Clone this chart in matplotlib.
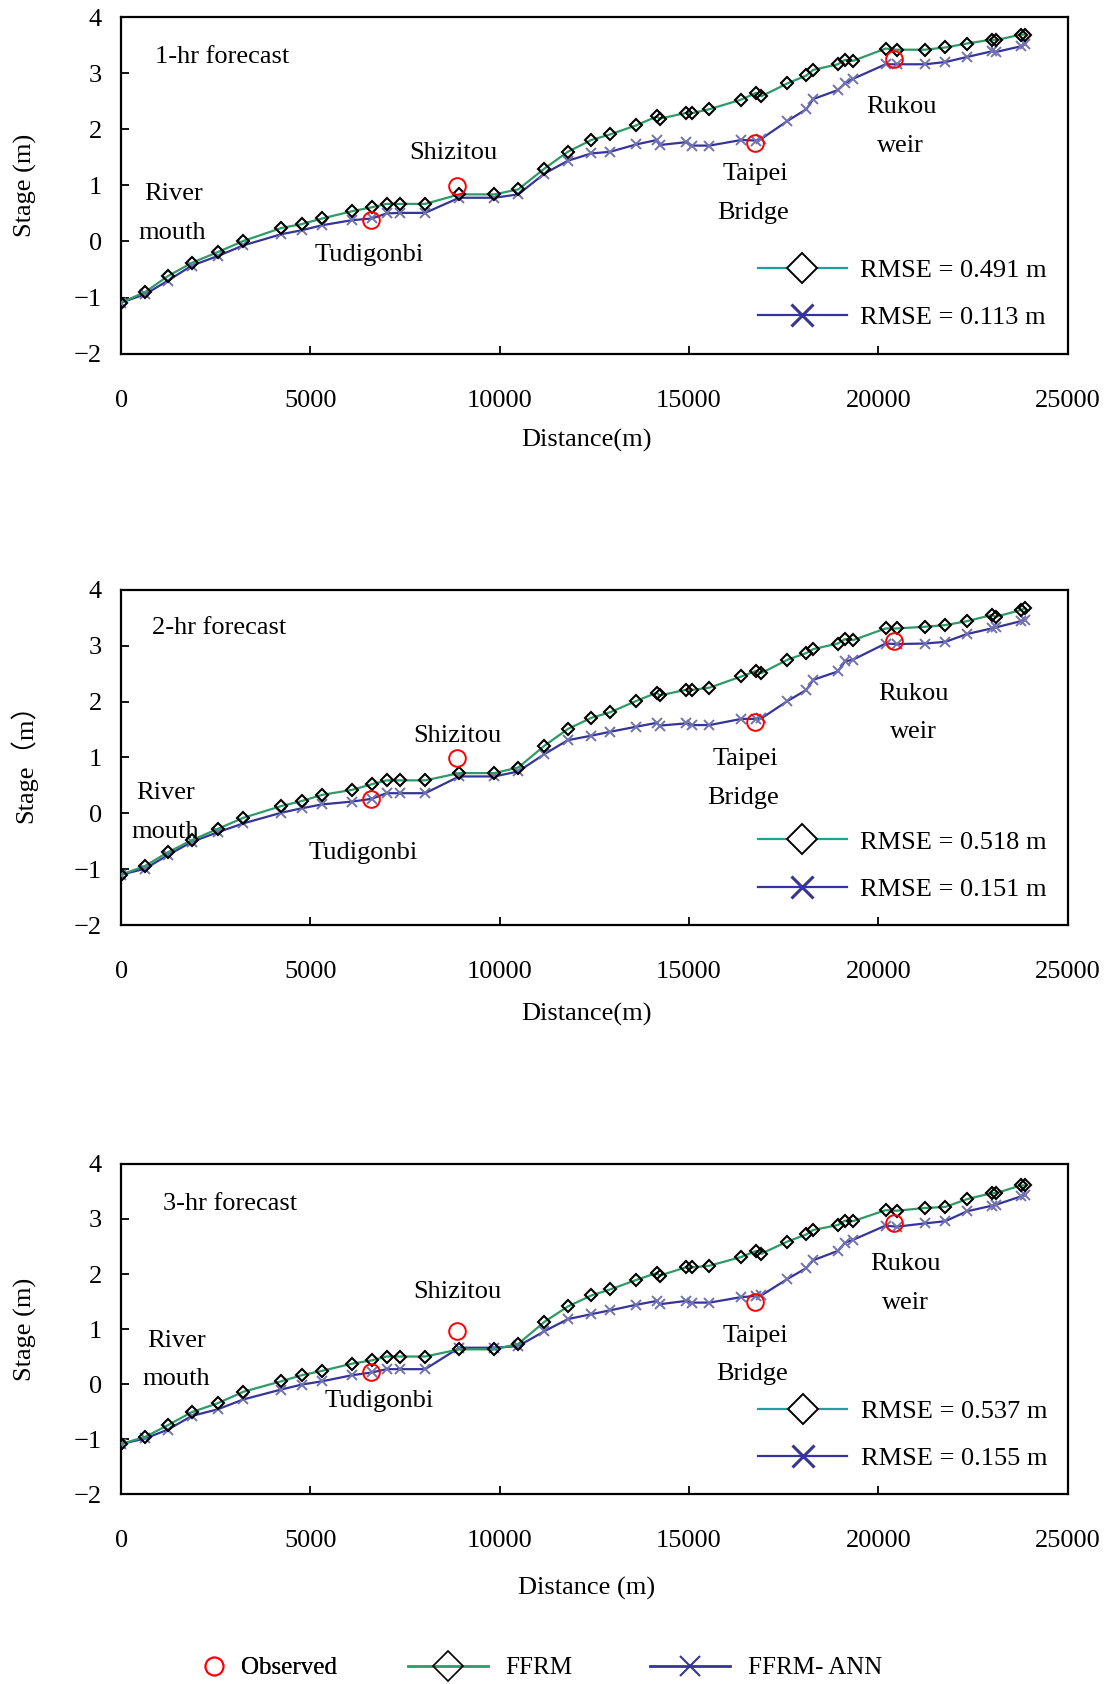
import matplotlib
matplotlib.use("Agg")
from matplotlib import pyplot as plt
from matplotlib.lines import Line2D

plt.rcParams['font.family'] = ['Liberation Serif', 'Noto Sans CJK SC', 'DejaVu Serif']
plt.rcParams['axes.unicode_minus'] = True

# station distances (m)
dist = [0, 640, 1230, 1870, 2550, 3230, 4230, 4770, 5310, 6100, 6620, 7010, 7370, 8030,
        8930, 9860, 10490, 11180, 11800, 12420, 12920, 13600, 14150, 14220, 14910, 15090,
        15540, 16380, 16770, 16910, 17600, 18100, 18280, 18930, 19120, 19330, 20190, 20480,
        21230, 21770, 22340, 22990, 23110, 23760, 23880]

ffrm_1hr = [-1.09, -0.90, -0.62, -0.38, -0.19, 0.01, 0.24, 0.31, 0.41, 0.54, 0.61, 0.67, 0.67,
            0.67, 0.84, 0.84, 0.93, 1.30, 1.60, 1.81, 1.91, 2.07, 2.23, 2.19, 2.29, 2.29, 2.36,
            2.53, 2.65, 2.59, 2.82, 2.96, 3.06, 3.16, 3.24, 3.22, 3.44, 3.42, 3.42, 3.46, 3.53,
            3.60, 3.59, 3.69, 3.69]
ann_1hr = [-1.09, -0.94, -0.70, -0.43, -0.26, -0.07, 0.13, 0.20, 0.29, 0.38, 0.41, 0.50, 0.51,
           0.51, 0.78, 0.78, 0.84, 1.21, 1.44, 1.57, 1.60, 1.73, 1.81, 1.72, 1.77, 1.71, 1.71,
           1.81, 1.80, 1.83, 2.15, 2.36, 2.54, 2.70, 2.82, 2.90, 3.16, 3.16, 3.16, 3.20, 3.29,
           3.39, 3.38, 3.48, 3.52]

ffrm_2hr = [-1.10, -0.94, -0.70, -0.48, -0.28, -0.08, 0.13, 0.22, 0.33, 0.42, 0.52, 0.59, 0.59,
            0.59, 0.72, 0.72, 0.82, 1.21, 1.51, 1.71, 1.81, 2.01, 2.16, 2.11, 2.21, 2.21, 2.25,
            2.45, 2.55, 2.51, 2.75, 2.87, 2.94, 3.04, 3.12, 3.10, 3.31, 3.31, 3.34, 3.37, 3.44,
            3.55, 3.52, 3.64, 3.67]
ann_2hr = [-1.10, -0.99, -0.75, -0.51, -0.34, -0.18, 0.01, 0.09, 0.16, 0.21, 0.26, 0.36, 0.36,
           0.36, 0.66, 0.66, 0.75, 1.06, 1.31, 1.39, 1.46, 1.55, 1.62, 1.57, 1.61, 1.58, 1.58,
           1.69, 1.69, 1.70, 2.01, 2.21, 2.39, 2.54, 2.72, 2.75, 3.04, 3.03, 3.04, 3.07, 3.21,
           3.31, 3.33, 3.44, 3.46]

ffrm_3hr = [-1.09, -0.96, -0.75, -0.51, -0.35, -0.14, 0.05, 0.16, 0.24, 0.37, 0.43, 0.50, 0.50,
            0.50, 0.63, 0.63, 0.73, 1.13, 1.41, 1.61, 1.72, 1.89, 2.02, 1.97, 2.12, 2.12, 2.15,
            2.31, 2.42, 2.37, 2.59, 2.72, 2.80, 2.89, 2.97, 2.96, 3.16, 3.15, 3.20, 3.22, 3.36,
            3.47, 3.47, 3.61, 3.61]
ann_3hr = [-1.09, -0.99, -0.83, -0.58, -0.46, -0.28, -0.10, -0.01, 0.05, 0.16, 0.21, 0.27, 0.27,
           0.27, 0.66, 0.66, 0.69, 0.96, 1.18, 1.27, 1.34, 1.44, 1.51, 1.45, 1.51, 1.48, 1.48,
           1.58, 1.60, 1.61, 1.91, 2.11, 2.25, 2.42, 2.57, 2.62, 2.88, 2.86, 2.92, 2.96, 3.14,
           3.24, 3.26, 3.41, 3.44]

obs_x = [6600, 8880, 16740, 20420]
obs_1hr = [0.38, 0.99, 1.75, 3.26]
obs_2hr = [0.25, 0.99, 1.64, 3.09]
obs_3hr = [0.21, 0.96, 1.49, 2.92]

titles = ['1-hr forecast', '2-hr forecast', '3-hr forecast']
rmse_ffrm = ['RMSE = 0.491 m', 'RMSE = 0.518 m', 'RMSE = 0.537 m']
rmse_ann = ['RMSE = 0.113 m', 'RMSE = 0.151 m', 'RMSE = 0.155 m']
ylabels = ['Stage (m)', 'Stage\uff08m\uff09', 'Stage (m)']
xlabels = ['Distance(m)', 'Distance(m)', 'Distance (m)']

# label positions (data coords) per panel
place_names = ['River', 'mouth', 'Tudigonbi', 'Shizitou', 'Taipei', 'Bridge', 'Rukou', 'weir']
label_pos = [
    [(2680, 3.29), (1375, 0.84), (1350, 0.15), (6540, -0.24), (8780, 1.58),
     (16750, 1.20), (16690, 0.51), (20610, 2.39), (20580, 1.70)],
    [(2590, 3.31), (1175, 0.36), (1175, -0.33), (6390, -0.71), (8890, 1.38),
     (16490, 0.97), (16440, 0.28), (20920, 2.14), (20920, 1.45)],
    [(2880, 3.28), (1460, 0.79), (1460, 0.09), (6820, -0.30), (8890, 1.68),
     (16750, 0.88), (16660, 0.18), (20720, 2.18), (20720, 1.48)],
]
xlabel_y = [-0.223, -0.233, -0.25]

GREEN = '#2e9a68'
TEAL = '#1f9e9a'
NAVY = '#34349a'
XCOL = '#7272b2'

fig = plt.figure(figsize=(11.11, 16.84), dpi=100)
boxes = [[0.109, 0.790, 0.852, 0.1998],
         [0.109, 0.4507, 0.852, 0.199],
         [0.109, 0.1128, 0.852, 0.196]]
ffrm_all = [ffrm_1hr, ffrm_2hr, ffrm_3hr]
ann_all = [ann_1hr, ann_2hr, ann_3hr]
obs_all = [obs_1hr, obs_2hr, obs_3hr]

for i in range(3):
    ax = fig.add_axes(boxes[i])
    ax.plot(dist, ann_all[i], color=NAVY, lw=1.6, marker='x', ms=7, mec=XCOL, mew=1.4, zorder=3)
    ax.plot(dist, ffrm_all[i], color=GREEN, lw=1.6, marker='D', ms=6.5, mfc='none',
            mec='black', mew=1.5, zorder=4)
    ax.plot(obs_x, obs_all[i], ls='none', marker='o', ms=12, mfc='none', mec='red', mew=1.4, zorder=5)
    ax.set_xlim(0, 25000)
    ax.set_ylim(-2, 4)
    ax.set_xticks(range(0, 25001, 5000))
    ax.set_yticks(range(-2, 5))
    ax.tick_params(direction='in', length=6, width=1.3, labelsize=19, pad=14)
    ax.tick_params(axis='x', pad=26)
    for s in ax.spines.values():
        s.set_linewidth(1.6)
    ax.set_ylabel(ylabels[i], fontsize=19)
    ax.yaxis.set_label_coords(-0.089, 0.5)
    ax.set_xlabel(xlabels[i], fontsize=19)
    ax.xaxis.set_label_coords(0.492, xlabel_y[i])

    txts = [titles[i]] + place_names
    for t, (tx, ty) in zip(txts, label_pos[i]):
        ax.text(tx, ty, t, fontsize=19, ha='center', va='center')

    h1 = Line2D([], [], color=TEAL, lw=1.6, marker='D', ms=15, mfc='white', mec='black', mew=1.4)
    h2 = Line2D([], [], color=NAVY, lw=1.6, marker='x', ms=16, mec=NAVY, mew=2.2)
    ax.legend([h1, h2], [rmse_ffrm[i], rmse_ann[i]], loc='lower right', frameon=False,
              fontsize=19, handlelength=3.4, handletextpad=0.5, labelspacing=0.9,
              bbox_to_anchor=(0.995, 0.025), borderaxespad=0.2)

hb1 = Line2D([], [], ls='none', marker='o', ms=13, mfc='none', mec='red', mew=1.3)
hb2 = Line2D([], [], color=GREEN, lw=2, marker='D', ms=15, mfc='none', mec='black', mew=1.2)
hb3 = Line2D([], [], color=NAVY, lw=2, marker='x', ms=14, mec=NAVY, mew=1.5)
leg1 = fig.legend([hb1], ['Observed'], loc='center left', bbox_to_anchor=(0.161, 0.0095),
                  frameon=False, fontsize=18, handlelength=1.0, handletextpad=0.6)
fig.add_artist(leg1)
fig.legend([hb2, hb3], ['FFRM', 'FFRM- ANN'], loc='center left',
           bbox_to_anchor=(0.347, 0.0095), ncol=2, frameon=False, fontsize=18,
           handlelength=3.2, handletextpad=0.7, columnspacing=3.1)

fig.savefig('out.png', dpi=100)
